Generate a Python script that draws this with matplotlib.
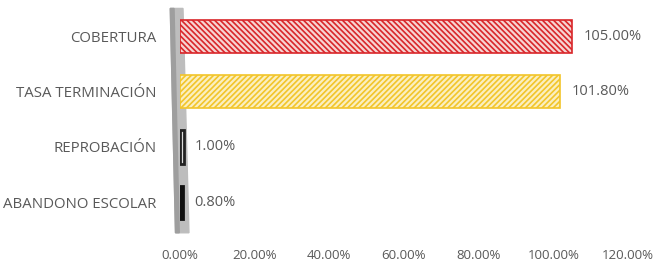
import matplotlib
matplotlib.use("Agg")
import matplotlib.pyplot as plt
from matplotlib.ticker import FuncFormatter

categorias = ["COBERTURA", "TASA TERMINACIÓN", "REPROBACIÓN", "ABANDONO ESCOLAR"]
valores = [105.0, 101.8, 1.0, 0.8]
etiquetas = ["105.00%", "101.80%", "1.00%", "0.80%"]
ticks_x = [0, 20, 40, 60, 80, 100, 120]

caras = ["#f6d4d2", "#fbefc0", "#dcdcdc", "#111111"]
bordes = ["#d9262a", "#f2c52a", "#222222", "#111111"]
tramas = ["\\\\\\\\\\\\", "//////", None, None]
grosor = [1.2, 1.2, 2.0, 2.0]

plt.rcParams['font.family'] = ['Open Sans', 'DejaVu Sans']
plt.rcParams['hatch.linewidth'] = 1.2
gris = "#595959"

fig = plt.figure(figsize=(6.56, 2.66), dpi=100)
ax = fig.add_axes([180/656, 36/266, 448/656, 226/266])

pos = list(range(len(categorias)))

# pared gris a la izquierda (efecto 3D)
ax.fill([-2.6, 0.8, 2.4, -1.2], [-0.5, -0.5, 3.55, 3.55], color="#bdbdbd",
        zorder=0, clip_on=False)
ax.fill([-2.6, -1.6, -0.2, -1.2], [-0.5, -0.5, 3.55, 3.55], color="#9e9e9e",
        zorder=0, clip_on=False)

for i in pos:
    ax.barh(i, valores[i], height=0.6, left=0, color=caras[i], edgecolor=bordes[i],
            hatch=tramas[i], linewidth=grosor[i], zorder=2)
    ax.text(valores[i] + 3.0, i, etiquetas[i], va="center", ha="left",
            fontsize=10.5, color=gris)

ax.set_xlim(0, 120)
ax.set_ylim(3.5, -0.58)
ax.set_yticks(pos)
ax.set_yticklabels(categorias, fontsize=10.8, color=gris)
ax.set_xticks(ticks_x)
ax.xaxis.set_major_formatter(FuncFormatter(lambda v, p: "%.2f%%" % v))
ax.tick_params(axis="x", labelsize=9.5, colors=gris, length=0, pad=14)
ax.tick_params(axis="y", length=0, pad=17)
for s in ax.spines.values():
    s.set_visible(False)

fig.savefig("out.png", dpi=100, facecolor="white")
